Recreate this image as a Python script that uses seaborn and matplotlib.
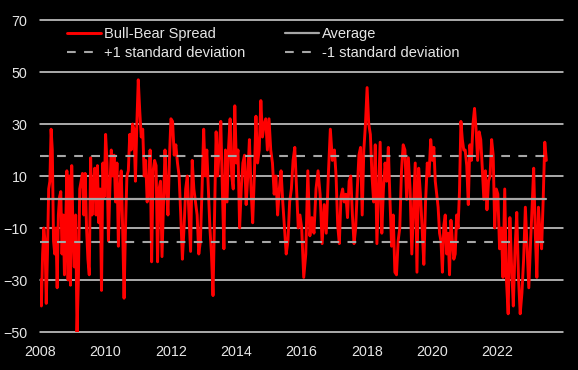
import numpy as np
import pandas as pd
import matplotlib
matplotlib.use("Agg")
import matplotlib.pyplot as plt
import matplotlib.dates as mdates
import seaborn as sns

# ---- data (roughly every 2-3 weeks) ----
y2008 = [-30, -40, -20, -10, -15, -39, -20, 5, 8, 28, 20, -15, -20, -10, -33, -5, 2, 4,
         -20, -5, -28, -10, 12, -30, 10, -32, 14]
y2009 = [-10, -25, -5, -50, -30, 5, 8, 11, -5, 11, -10, -22, -28, 17, -5, 5, 13, -5, 14,
         -8, 5, -34, 15, 2]
y2010 = [26, 15, -15, 5, 20, 10, 18, 0, 15, -17, 5, 12, -10, -37, -10, 10, 12, 26, 20, 30,
         28, 8, 30]
y2011 = [47, 35, 25, 28, 10, 16, 0, 5, 20, -23, 12, 16, 14, -23, 5, 8, -21, 0, 20, 5, -5, 17]
y2012 = [32, 31, 18, 22, 15, 10, -5, -22, -10, 5, 10, -5, -19, 16, 5, 0, -5, -20, -15, 5]
y2013 = [28, 10, 20, 5, -10, -20, -36, -5, 27, 10, 20, 31, 5, -18, 20, 0, 21, 32, 10, 5, 37]
y2014 = [15, 20, -10, 5, 15, 18, -1, 10, 24, 5, -8, 10, 33, 15, 20, 39, 25, 30, 32, 20]
y2015 = [32, 20, 15, 3, 10, -5, 5, 12, 0, -10, -20, -15, 0, 5, 16, 21, 5, -10, -5]
y2016 = [-10, -29, -20, 12, -13, -6, -12, 5, 12, 3, -16, -1, -12, 10, 28, 16]
y2017 = [20, 10, -9, -16, 2, 5, 0, 3, -6, 8, 10, -5, -16, -10, 5, 18, 21, -5, 20, 30]
y2018 = [44, 30, 26, 10, 0, 22, -16, 3, 23, -12, 5, 15, 8, 21, 1, -17, -5, -27, -28, -15]
y2019 = [-10, 12, 22, 20, 1, 17, 5, -20, -3, 15, -27, 13, 3, -10, -24, 0, 15, 10, 24]
y2020 = [16, 21, 8, 3, -2, -12, -15, -27, -9, -5, -20, -12, -28, -7, -15, -22, -20, -5, -10,
         4, 31, 24, 20]
y2021 = [20, 14, -1, 22, 16, 30, 36, 28, 16, 27, 24, 13, 1, 12, -3, 8, 10, 24, 18, -10, 5]
y2022 = [3, -18, -10, -29, 5, -30, -43, -6, -25, -40, -18, -4, -29, -43, -35, -22, -2, -18, -33]
y2023 = [-16, -2, 13, -12, -29, -2, -12, -18, 1, 23, 16]

years = list(range(2008, 2024))
yearly_values = [y2008, y2009, y2010, y2011, y2012, y2013, y2014, y2015,
                 y2016, y2017, y2018, y2019, y2020, y2021, y2022, y2023]
last_date = "2023-06-29"

average = 1.2
std_dev = 16.4

y_ticks = [-50, -30, -10, 10, 30, 50, 70]
x_tick_years = [2008, 2010, 2012, 2014, 2016, 2018, 2020, 2022]

labels = ["Bull-Bear Spread", "Average", "+1 standard deviation", "-1 standard deviation"]

# ---- build table ----
frames = []
for yr, vals in zip(years, yearly_values):
    if yr < years[-1]:
        d = pd.date_range(f"{yr}-01-03", f"{yr + 1}-01-03", periods=len(vals) + 1)[:-1]
    else:
        d = pd.date_range(f"{yr}-01-03", last_date, periods=len(vals))
    frames.append(pd.DataFrame({"date": d, "spread": vals}))
df = pd.concat(frames, ignore_index=True)

# ---- style ----
sns.set_theme(style="dark")
plt.rcParams["font.family"] = ["Liberation Sans", "DejaVu Sans"]
txt_col = "#e6e6e6"
grid_col = "#d9d9d9"
gray = "#a6a6a6"

fig, ax = plt.subplots(figsize=(5.78, 3.70), dpi=100)
fig.patch.set_facecolor("black")
ax.set_facecolor("black")
fig.subplots_adjust(left=40 / 578, right=563 / 578, top=1 - 20 / 370, bottom=1 - 332 / 370)

for t in y_ticks:
    ax.axhline(t, color=grid_col, lw=1.1, zorder=1, clip_on=False)

sns.lineplot(data=df, x="date", y="spread", color="#ff0000", linewidth=2.1,
             ax=ax, label=labels[0], zorder=3)

x_span = [df["date"].iloc[0], df["date"].iloc[-1]]
h_avg, = ax.plot(x_span, [average, average], color=gray, lw=1.6, zorder=4, label=labels[1])
h_p, = ax.plot(x_span, [average + std_dev] * 2, color=gray, lw=1.5, zorder=4,
               dashes=(4.2, 4.0), dash_capstyle="butt", label=labels[2])
h_m, = ax.plot(x_span, [average - std_dev] * 2, color=gray, lw=1.5, zorder=4,
               dashes=(4.2, 4.0), dash_capstyle="butt", label=labels[3])

ax.set_ylim(-50, 70)
ax.set_yticks(y_ticks)
ax.set_xlim(pd.Timestamp("2008-01-01"), pd.Timestamp("2024-01-01"))
ax.set_xticks([pd.Timestamp(f"{y}-01-01") for y in x_tick_years])
ax.xaxis.set_major_formatter(mdates.DateFormatter("%Y"))
ax.set_xlabel("")
ax.set_ylabel("")
ax.grid(False)
for s in ax.spines.values():
    s.set_visible(False)
ax.tick_params(axis="both", length=0, colors=txt_col, labelsize=10.3)
ax.tick_params(axis="y", pad=9)
ax.tick_params(axis="x", pad=9)

handles, _ = ax.get_legend_handles_labels()
h_red = handles[0]
leg = ax.legend([h_red, h_p, h_avg, h_m],
                [labels[0], labels[2], labels[1], labels[3]],
                ncol=2, loc="upper left", bbox_to_anchor=(0.052, 0.977),
                frameon=False, fontsize=10.5, handlelength=2.3, handletextpad=0.25,
                columnspacing=2.7, labelspacing=0.35, borderpad=0.0, borderaxespad=0.0)
for t in leg.get_texts():
    t.set_color(txt_col)

fig.savefig("out.png", dpi=100, facecolor="black")
